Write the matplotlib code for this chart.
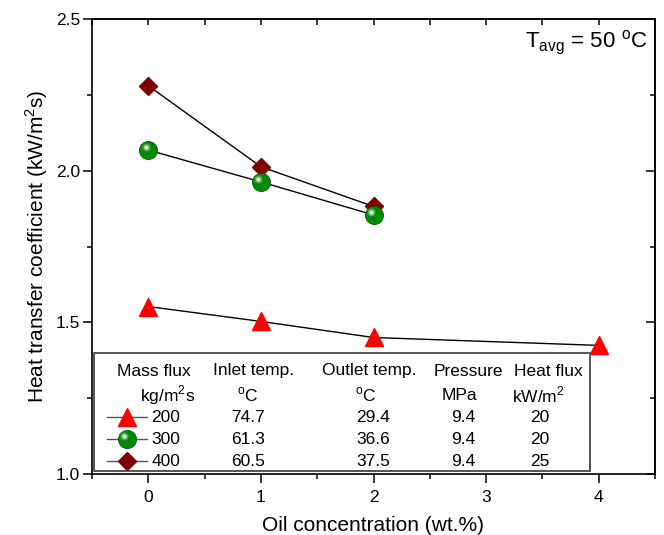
import numpy as np
import matplotlib as mpl
mpl.use('Agg')
import matplotlib.pyplot as plt
from matplotlib.ticker import MultipleLocator
from matplotlib.transforms import offset_copy
from matplotlib.lines import Line2D
from matplotlib.patches import Rectangle

plt.rcParams['font.family'] = ['Liberation Sans', 'DejaVu Sans']
plt.rcParams['mathtext.fontset'] = 'custom'
plt.rcParams['mathtext.rm'] = 'Liberation Sans'

# data
oil_200 = [0, 1, 2, 4]
htc_200 = [1.552, 1.503, 1.450, 1.424]
oil_300 = [0, 1, 2]
htc_300 = [2.068, 1.963, 1.854]
oil_400 = [0, 1, 2]
htc_400 = [2.280, 2.013, 1.882]

# table inside the plot
col_titles = ['Mass flux', 'Inlet temp.', 'Outlet temp.', 'Pressure', 'Heat flux']
col_units = ['kg/m$^{2}$s', '$^{\\rm o}$C', '$^{\\rm o}$C', 'MPa', 'kW/m$^{2}$']
mass_flux = ['200', '300', '400']
inlet_t = ['74.7', '61.3', '60.5']
outlet_t = ['29.4', '36.6', '37.5']
pressure = ['9.4', '9.4', '9.4']
heat_flux = ['20', '20', '25']

W, H = 664, 535
fig = plt.figure(figsize=(W / 100, H / 100), dpi=100)
fig.patch.set_facecolor('white')


def px(x, y):
    # pixel position (from top-left) -> figure fraction
    return x / W, 1 - y / H


ax = fig.add_axes([92 / W, 1 - 474 / H, (655 - 92) / W, (474 - 19) / H])
ax.set_xlim(-0.5, 4.5)
ax.set_ylim(1.0, 2.5)

red = '#ff0000'
green = '#008a00'
maroon = '#800000'


def sphere(x, y, ms, trans, zorder, target):
    # green ball with a soft highlight, like the origin sphere symbol
    arts = [Line2D(x, y, ls='none', marker='o', ms=ms, mfc=green, mec='#006000',
                   mew=0.6, transform=trans, zorder=zorder)]
    hl = offset_copy(trans, fig=fig, x=-1.9, y=1.9, units='points')
    n = 7
    for i in range(n):
        f = i / (n - 1)
        c = (f, 0.54 + 0.46 * f, f)
        arts.append(Line2D(x, y, ls='none', marker='o', ms=ms * (0.6 - 0.5 * f),
                           mfc=c, mec='none', alpha=0.3 + 0.7 * f, transform=hl,
                           zorder=zorder + 0.01 * (i + 1)))
    for a in arts:
        target.add_artist(a) if target is fig else target.add_line(a)


ax.plot(oil_200, htc_200, color='k', lw=1.0, zorder=2)
ax.plot(oil_200, htc_200, ls='none', marker='^', ms=12.5, mfc=red, mec=red, zorder=3)
ax.plot(oil_400, htc_400, color='k', lw=1.0, zorder=2)
ax.plot(oil_400, htc_400, ls='none', marker='D', ms=9, mfc=maroon, mec=maroon, zorder=3)
ax.plot(oil_300, htc_300, color='k', lw=1.0, zorder=2)
sphere(oil_300, htc_300, 13, ax.transData, 4, ax)

ax.set_xlabel('Oil concentration (wt.%)', fontsize=15, labelpad=8)
ax.set_ylabel('Heat transfer coefficient (kW/m$^{2}$s)', fontsize=15, labelpad=4)

ax.xaxis.set_major_locator(MultipleLocator(1))
ax.xaxis.set_minor_locator(MultipleLocator(0.5))
ax.yaxis.set_major_locator(MultipleLocator(0.5))
ax.yaxis.set_minor_locator(MultipleLocator(0.25))
ax.yaxis.set_major_formatter(mpl.ticker.FormatStrFormatter('%.1f'))
ax.tick_params(which='major', direction='out', length=6.5, width=1.1, labelsize=12.5, pad=5)
ax.tick_params(which='minor', direction='out', length=3.3, width=1.1)
ax.tick_params(axis='y', which='major', pad=2)
for s in ax.spines.values():
    s.set_linewidth(1.2)

top = ax.secondary_xaxis('top')
top.xaxis.set_major_locator(MultipleLocator(1))
top.xaxis.set_minor_locator(MultipleLocator(0.5))
top.tick_params(which='both', direction='in', labeltop=False, width=1.1, length=4.5)
top.spines['top'].set_linewidth(1.2)
right = ax.secondary_yaxis('right')
right.yaxis.set_major_locator(MultipleLocator(0.5))
right.yaxis.set_minor_locator(MultipleLocator(0.25))
right.tick_params(which='both', direction='in', labelright=False, width=1.1)
right.tick_params(which='major', length=6.5)
right.tick_params(which='minor', length=3.3)
right.spines['right'].set_linewidth(1.2)

ax.text(647 / W, 1 - 48 / H, 'T$_{\\mathregular{avg}}$ = 50 $^{\\mathregular{o}}$C',
        transform=fig.transFigure, ha='right', va='baseline', fontsize=16)

# the table box
x0, y0 = px(94, 471)
x1, y1 = px(590, 353)
fig.add_artist(Rectangle((x0, y0), x1 - x0, y1 - y0, transform=fig.transFigure,
                         fill=True, fc='white', ec='#555555', lw=1.4, zorder=5))

fs = 12.5
title_x = [154, 254, 369, 468, 548]
unit_x = [168, 248, 366, 459, 538]
val_x = [166, 248, 373, 463, 540]
row_y = [417, 439, 461]
for t, u, xt, xu in zip(col_titles, col_units, title_x, unit_x):
    fig.text(*px(xt, 371), t, ha='center', va='center', fontsize=fs, zorder=6)
    fig.text(*px(xu, 395), u, ha='center', va='center', fontsize=fs, zorder=6)

cols = [mass_flux, inlet_t, outlet_t, pressure, heat_flux]
for r, yy in enumerate(row_y):
    for col, xx in zip(cols, val_x):
        fig.text(*px(xx, yy), col[r], ha='center', va='center', fontsize=fs, zorder=6)

# legend symbols
for yy, kind in zip(row_y, ['tri', 'ball', 'dia']):
    xa, ya = px(107, yy)
    xb, _ = px(147, yy)
    xm, _ = px(127, yy)
    fig.add_artist(Line2D([xa, xb], [ya, ya], color='#555555', lw=1.0,
                          transform=fig.transFigure, zorder=6))
    if kind == 'tri':
        fig.add_artist(Line2D([xm], [ya], ls='none', marker='^', ms=12.5, mfc=red, mec=red,
                              transform=fig.transFigure, zorder=7))
    elif kind == 'dia':
        fig.add_artist(Line2D([xm], [ya], ls='none', marker='D', ms=9, mfc=maroon, mec=maroon,
                              transform=fig.transFigure, zorder=7))
    else:
        sphere([xm], [ya], 13, fig.transFigure, 7, fig)

fig.savefig('out.png', dpi=100)
